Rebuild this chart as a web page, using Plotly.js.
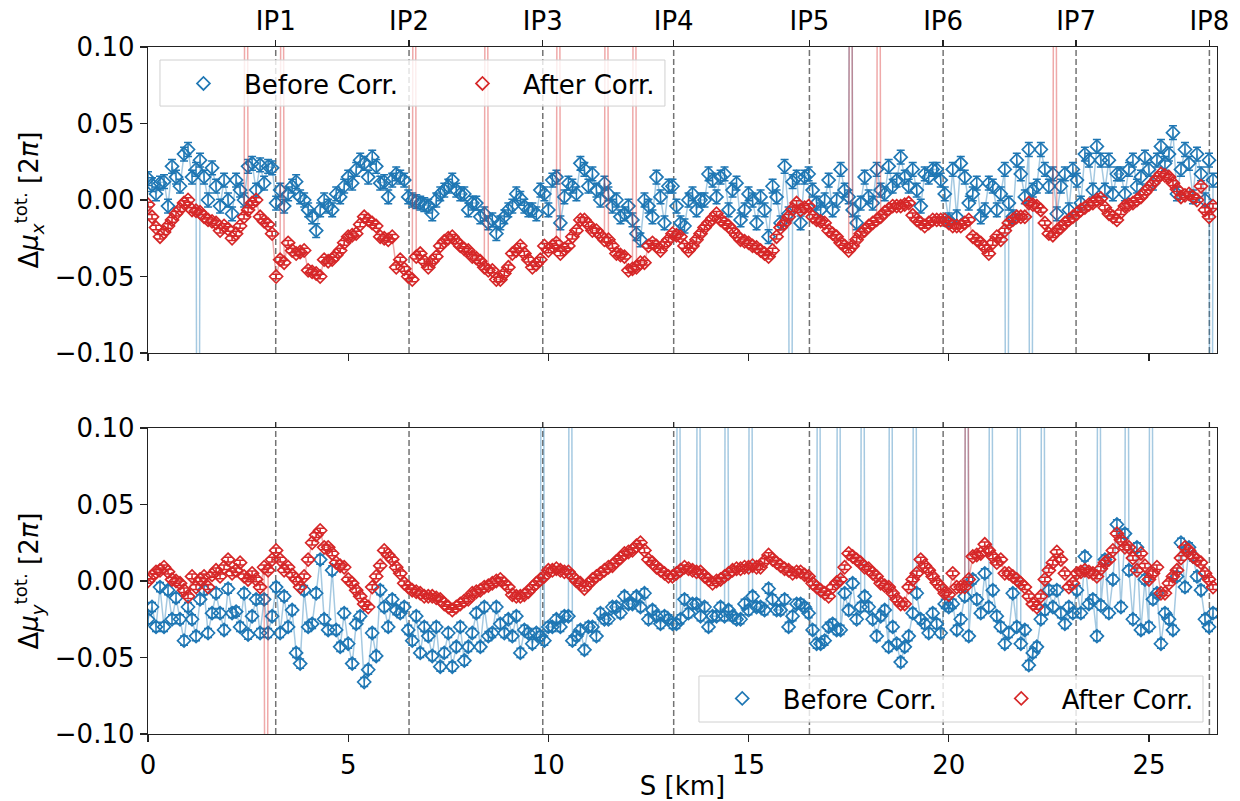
<!DOCTYPE html>
<html>
<head>
<meta charset="utf-8">
<script src="https://cdn.plot.ly/plotly-3.0.1.min.js"></script>
<style>html,body{margin:0;padding:0;background:#fff;}#chart{width:1240px;height:801px;}</style>
</head>
<body>
<div id="chart"></div>
<script>
// BPM longitudinal positions [km]
const S = [
0.0,0.1,0.2,0.3,0.4,0.5,0.6,0.7,0.8,0.9,
1.0,1.1,1.2,1.3,1.4,1.5,1.6,1.7,1.8,1.9,
2.0,2.1,2.2,2.3,2.4,2.5,2.6,2.7,2.8,2.9,
3.0,3.1,3.2,3.3,3.4,3.5,3.6,3.7,3.8,3.9,
4.0,4.1,4.2,4.3,4.4,4.5,4.6,4.7,4.8,4.9,
5.0,5.1,5.2,5.3,5.4,5.5,5.6,5.7,5.8,5.9,
6.0,6.1,6.2,6.3,6.4,6.5,6.6,6.7,6.8,6.9,
7.0,7.1,7.2,7.3,7.4,7.5,7.6,7.7,7.8,7.9,
8.0,8.1,8.2,8.3,8.4,8.5,8.6,8.7,8.8,8.9,
9.0,9.1,9.2,9.3,9.4,9.5,9.6,9.7,9.8,9.9,
10.0,10.1,10.2,10.3,10.4,10.5,10.6,10.7,10.8,10.9,
11.0,11.1,11.2,11.3,11.4,11.5,11.6,11.7,11.8,11.9,
12.0,12.1,12.2,12.3,12.4,12.5,12.6,12.7,12.8,12.9,
13.0,13.1,13.2,13.3,13.4,13.5,13.6,13.7,13.8,13.9,
14.0,14.1,14.2,14.3,14.4,14.5,14.6,14.7,14.8,14.9,
15.0,15.1,15.2,15.3,15.4,15.5,15.6,15.7,15.8,15.9,
16.0,16.1,16.2,16.3,16.4,16.5,16.6,16.7,16.8,16.9,
17.0,17.1,17.2,17.3,17.4,17.5,17.6,17.7,17.8,17.9,
18.0,18.1,18.2,18.3,18.4,18.5,18.6,18.7,18.8,18.9,
19.0,19.1,19.2,19.3,19.4,19.5,19.6,19.7,19.8,19.9,
20.0,20.1,20.2,20.3,20.4,20.5,20.6,20.7,20.8,20.9,
21.0,21.1,21.2,21.3,21.4,21.5,21.6,21.7,21.8,21.9,
22.0,22.1,22.2,22.3,22.4,22.5,22.6,22.7,22.8,22.9,
23.0,23.1,23.2,23.3,23.4,23.5,23.6,23.7,23.8,23.9,
24.0,24.1,24.2,24.3,24.4,24.5,24.6,24.7,24.8,24.9,
25.0,25.1,25.2,25.3,25.4,25.5,25.6,25.7,25.8,25.9,
26.0,26.1,26.2,26.3,26.4,26.5,26.6
];

// Horizontal phase deviation, before correction
const muxBefore = [
0.014,0.010,0.004,0.011,0.012,-0.004,0.022,0.015,0.009,0.030,
0.033,0.015,0.020,0.026,0.015,0.000,0.021,0.009,-0.004,0.013,
0.000,-0.009,0.013,0.0065,0.000,0.022,0.024,0.0065,0.023,0.011,
0.022,0.021,-0.002,0.0065,-0.004,0.004,0.009,0.012,0.002,0.000,
-0.0065,-0.011,-0.020,-0.0065,0.000,-0.004,-0.0065,0.004,0.002,0.009,
0.015,0.011,0.020,0.026,0.024,0.015,0.028,0.022,0.011,0.012,
0.002,0.013,0.017,0.015,0.013,0.002,0.000,-0.001,-0.002,-0.003,
-0.004,-0.009,0.000,0.004,0.0065,0.009,0.013,0.0065,0.004,0.004,
-0.0065,-0.002,-0.002,-0.011,-0.009,-0.015,-0.013,-0.022,-0.015,-0.011,
-0.0065,-0.004,0.004,0.001,-0.004,-0.0065,-0.0065,-0.009,0.0065,0.004,
-0.0065,0.013,0.015,-0.015,0.002,0.011,0.009,0.004,0.024,0.020,
0.009,0.017,0.0065,0.000,0.011,0.004,-0.004,0.000,-0.011,-0.009,
-0.004,-0.013,-0.022,-0.026,0.000,-0.004,-0.011,0.015,0.002,-0.015,
0.009,0.009,-0.004,-0.015,-0.017,0.000,0.004,-0.0065,0.000,0.000,
0.017,0.013,0.002,0.015,0.017,-0.0065,0.0065,0.011,-0.013,-0.0065,
0.004,0.000,-0.015,0.002,-0.0065,-0.024,0.009,0.002,-0.015,0.022,
-0.009,0.012,0.015,-0.015,0.015,0.017,0.0065,-0.002,-0.0065,0.000,
0.013,-0.0065,0.000,0.020,0.0065,0.002,-0.0065,-0.015,-0.002,0.015,
0.002,-0.002,0.020,0.0065,0.004,0.022,0.009,0.013,0.028,0.015,
0.009,0.020,0.0065,-0.004,0.017,0.015,0.020,0.020,0.013,0.004,
-0.013,0.020,-0.011,0.024,0.015,-0.002,0.004,0.011,-0.011,-0.0065,
0.011,0.009,-0.0065,0.004,0.020,-0.002,-0.011,0.026,0.017,0.002,
0.033,0.0065,0.009,0.033,0.020,0.009,0.017,-0.009,0.009,0.017,
-0.0065,0.020,0.013,-0.002,0.030,0.026,0.0065,0.035,0.026,0.0065,
0.026,0.004,0.017,0.017,0.004,0.020,0.026,0.009,0.015,0.028,
0.020,0.011,0.026,0.035,0.024,0.030,0.044,0.004,0.020,0.033,
0.024,0.002,0.030,0.017,0.000,0.026,0.013
];
// Horizontal phase deviation, after correction
const muxAfter = [
-0.003,-0.011,-0.018,-0.024,-0.021,-0.017,-0.013,-0.009,-0.006,-0.002,
0.000,-0.0065,-0.007,-0.008,-0.011,-0.013,-0.014,-0.015,-0.020,-0.017,
-0.019,-0.025,-0.022,-0.017,-0.011,-0.0065,-0.002,0.000,-0.011,-0.014,
-0.016,-0.022,-0.050,-0.039,-0.041,-0.028,-0.033,-0.035,-0.034,-0.033,
-0.046,-0.047,-0.048,-0.050,-0.039,-0.040,-0.039,-0.036,-0.033,-0.028,
-0.024,-0.023,-0.022,-0.016,-0.011,-0.013,-0.015,-0.017,-0.024,-0.025,
-0.026,-0.024,-0.044,-0.039,-0.045,-0.050,-0.052,-0.037,-0.035,-0.040,
-0.044,-0.040,-0.037,-0.030,-0.027,-0.025,-0.024,-0.027,-0.030,-0.032,
-0.033,-0.037,-0.038,-0.040,-0.044,-0.046,-0.046,-0.052,-0.052,-0.048,
-0.044,-0.035,-0.033,-0.030,-0.035,-0.039,-0.044,-0.042,-0.039,-0.030,
-0.033,-0.030,-0.028,-0.035,-0.032,-0.030,-0.024,-0.020,-0.013,-0.013,
-0.016,-0.020,-0.020,-0.023,-0.026,-0.026,-0.030,-0.035,-0.036,-0.037,
-0.046,-0.045,-0.044,-0.041,-0.041,-0.030,-0.028,-0.030,-0.033,-0.029,
-0.026,-0.022,-0.023,-0.024,-0.030,-0.033,-0.030,-0.026,-0.022,-0.018,
-0.015,-0.012,-0.009,-0.013,-0.015,-0.017,-0.020,-0.023,-0.026,-0.027,
-0.028,-0.030,-0.031,-0.033,-0.035,-0.037,-0.033,-0.024,-0.018,-0.015,
-0.011,-0.006,-0.002,-0.0065,-0.005,-0.004,-0.011,-0.013,-0.014,-0.015,
-0.020,-0.022,-0.024,-0.028,-0.030,-0.033,-0.030,-0.026,-0.022,-0.020,
-0.017,-0.015,-0.013,-0.011,-0.008,-0.006,-0.004,-0.004,-0.004,-0.003,
-0.002,-0.010,-0.013,-0.015,-0.017,-0.015,-0.013,-0.013,-0.013,-0.013,
-0.015,-0.017,-0.017,-0.017,-0.015,-0.013,-0.024,-0.026,-0.028,-0.031,
-0.035,-0.028,-0.024,-0.026,-0.020,-0.015,-0.013,-0.011,-0.011,-0.011,
-0.002,-0.003,-0.004,-0.0065,-0.015,-0.022,-0.023,-0.020,-0.018,-0.015,
-0.013,-0.011,-0.009,-0.0065,-0.005,-0.003,-0.002,0.000,0.001,-0.005,
-0.009,-0.011,-0.013,-0.008,-0.004,-0.003,-0.002,0.000,0.002,0.005,
0.008,0.011,0.014,0.017,0.016,0.015,0.011,0.007,0.002,0.003,
0.004,0.002,0.000,0.009,-0.0065,-0.011,-0.004
];
// Vertical phase deviation, before correction
const muyBefore = [
-0.025,-0.017,-0.030,-0.004,-0.030,-0.006,-0.025,-0.011,-0.025,-0.039,
-0.017,-0.025,-0.036,-0.012,-0.006,-0.034,-0.021,-0.008,-0.021,-0.032,
-0.005,-0.021,-0.020,-0.030,-0.008,-0.035,-0.023,-0.012,-0.034,-0.012,
-0.034,-0.023,-0.004,-0.034,-0.010,-0.030,-0.019,-0.047,-0.054,-0.006,
-0.030,-0.028,-0.008,0.014,-0.025,-0.032,0.007,-0.032,-0.043,-0.021,
-0.041,-0.054,-0.028,-0.023,-0.066,-0.058,-0.034,-0.049,-0.006,-0.017,
-0.030,-0.012,-0.019,-0.021,-0.017,-0.032,-0.039,-0.023,-0.047,-0.030,
-0.036,-0.049,-0.030,-0.056,-0.047,-0.034,-0.056,-0.043,-0.030,-0.052,
-0.043,-0.034,-0.021,-0.043,-0.017,-0.036,-0.034,-0.017,-0.028,-0.034,
-0.025,-0.036,-0.023,-0.047,-0.032,-0.034,-0.041,-0.034,-0.036,-0.039,
-0.030,-0.030,-0.025,-0.030,-0.023,-0.023,-0.039,-0.036,-0.032,-0.045,
-0.030,-0.030,-0.036,-0.021,-0.025,-0.025,-0.017,-0.017,-0.021,-0.010,
-0.015,-0.015,-0.010,-0.017,-0.008,-0.025,-0.019,-0.023,-0.028,-0.023,
-0.025,-0.028,-0.028,-0.025,-0.012,-0.021,-0.015,-0.015,-0.023,-0.017,
-0.030,-0.023,-0.023,-0.017,-0.023,-0.019,-0.023,-0.025,-0.025,-0.015,
-0.019,-0.010,-0.017,-0.017,-0.019,-0.005,-0.012,-0.019,-0.019,-0.012,
-0.030,-0.023,-0.015,-0.015,-0.017,-0.021,-0.032,-0.041,-0.041,-0.039,
-0.030,-0.028,-0.032,-0.032,-0.008,-0.019,-0.0015,-0.025,-0.017,-0.010,
-0.017,-0.025,-0.036,-0.023,-0.019,-0.043,-0.030,-0.041,-0.053,-0.043,
-0.036,-0.021,-0.008,-0.025,-0.028,-0.034,-0.021,-0.028,-0.034,-0.015,
-0.017,-0.015,-0.032,-0.025,-0.010,-0.036,0.001,-0.012,-0.021,0.005,
-0.017,-0.006,-0.023,-0.030,-0.041,-0.034,-0.008,-0.030,-0.041,-0.032,
-0.055,-0.047,-0.043,-0.025,-0.019,-0.006,-0.017,-0.006,-0.021,-0.028,
-0.017,-0.021,-0.006,-0.021,0.016,-0.015,-0.012,-0.036,-0.016,0.014,
-0.021,0.001,0.037,-0.017,0.031,0.007,-0.025,0.022,-0.032,0.001,
-0.030,-0.012,-0.008,-0.041,-0.021,-0.025,-0.032,0.003,0.025,-0.004,
0.022,0.016,0.003,-0.006,-0.025,-0.030,-0.021
];
// Vertical phase deviation, after correction
const muyAfter = [
0.000,0.003,0.006,0.007,0.009,0.006,0.001,0.000,-0.0015,-0.006,
-0.010,0.003,-0.004,0.001,0.003,-0.004,0.004,0.007,0.003,0.009,
0.014,0.005,0.007,0.012,0.003,0.001,0.005,0.001,-0.004,0.009,
0.007,0.014,0.020,0.014,0.007,0.009,0.004,0.001,-0.004,0.003,
0.014,0.025,0.030,0.033,0.022,0.022,0.018,0.012,0.010,0.009,
0.001,-0.0015,-0.006,-0.010,-0.015,-0.017,-0.004,0.003,0.010,0.020,
0.017,0.014,0.009,0.005,-0.0015,-0.004,-0.006,-0.007,-0.008,-0.010,
-0.010,-0.010,-0.011,-0.012,-0.015,-0.017,-0.019,-0.017,-0.015,-0.013,
-0.012,-0.008,-0.007,-0.006,-0.004,-0.003,-0.0015,0.000,0.001,-0.0015,
-0.004,-0.009,-0.010,-0.010,-0.009,-0.007,-0.004,-0.0015,0.001,0.003,
0.007,0.007,0.008,0.007,0.006,0.006,0.003,0.000,-0.0015,-0.005,
-0.002,0.001,0.003,0.005,0.007,0.009,0.010,0.013,0.015,0.018,
0.019,0.020,0.023,0.025,0.020,0.014,0.012,0.009,0.007,0.005,
0.003,0.003,0.005,0.007,0.009,0.008,0.007,0.006,0.006,0.003,
0.001,-0.0015,0.000,0.001,0.003,0.005,0.007,0.008,0.008,0.009,
0.009,0.010,0.009,0.009,0.013,0.017,0.014,0.012,0.010,0.008,
0.007,0.005,0.006,0.006,0.004,0.003,-0.0015,-0.004,-0.006,-0.008,
-0.010,-0.004,-0.001,0.001,0.009,0.018,0.016,0.014,0.012,0.009,
0.008,0.005,0.003,-0.0015,-0.003,-0.004,-0.008,-0.012,-0.015,-0.015,
-0.004,0.001,0.005,0.014,0.010,0.007,0.003,-0.001,-0.004,-0.008,
-0.009,0.005,-0.004,-0.004,-0.004,0.001,0.016,0.017,0.018,0.024,
0.020,0.016,0.012,0.014,0.005,0.005,0.003,0.001,-0.0015,-0.004,
-0.010,-0.015,-0.017,-0.010,0.001,0.007,0.012,0.019,0.014,0.005,
-0.004,-0.0015,0.005,0.006,0.007,0.006,0.005,0.003,0.008,0.012,
0.014,0.020,0.031,0.027,0.022,0.022,0.015,0.007,0.018,0.010,
0.001,0.005,0.009,-0.008,-0.008,-0.0015,0.003,0.007,0.015,0.022,
0.020,0.016,0.014,0.012,0.005,0.001,-0.004
];

// Faulty BPM readings far outside the plotted range
const muxBeforeOutS   = [1.25, 16.05, 17.55, 21.45, 22.05, 26.55];
const muxBeforeOutVal = [-0.5, -0.5, 0.5, -0.5, -0.5, -0.5];
const muxAfterOutS    = [2.45, 3.35, 6.65, 8.45, 10.25, 11.45, 12.15, 17.55, 18.25, 22.65];
const muxAfterOutVal  = [0.5, 0.5, 0.5, 0.5, 0.5, 0.5, 0.5, 0.5, 0.5, 0.5];
const muyBeforeOutS   = [9.85, 10.55, 13.25, 13.75, 14.45, 15.05, 16.75, 17.25, 17.85, 18.55, 19.15, 20.45, 21.05, 21.75, 22.35, 23.75, 24.45, 25.05];
const muyBeforeOutVal = [0.5,0.5,0.5,0.5,0.5,0.5,0.5,0.5,0.5,0.5,0.5,0.5,0.5,0.5,0.5,0.5,0.5,0.5];
const muyAfterOutS    = [2.95, 20.45];
const muyAfterOutVal  = [-0.5, 0.5];

// Measurement uncertainties
const errMuxBefore = 0.0045;
const errMuxAfter  = 0.0015;
const errMuyBefore = 0.003;
const errMuyAfter  = 0.0015;

// Interaction points
const ipS = [3.19, 6.52, 9.86, 13.13, 16.52, 19.86, 23.18, 26.51];
const ipLabels = ['IP1','IP2','IP3','IP4','IP5','IP6','IP7','IP8'];

const xTicks = [0, 5, 10, 15, 20, 25];
const yTicks = [-0.1, -0.05, 0, 0.05, 0.1];
const yTickText = ['\u22120.10', '\u22120.05', '0.00', '0.05', '0.10'];
const legendNames = ['Before Corr.', 'After Corr.'];

const BLUE = '#1f77b4', RED = '#d62728';
const BLUE_L = 'rgba(31,119,180,0.4)', RED_L = 'rgba(214,39,40,0.4)';
const FS = 26;

function merge(s, v, os, ov) {
  const pts = s.map((x, i) => [x, v[i]]).concat(os.map((x, i) => [x, ov[i]]));
  pts.sort((a, b) => a[0] - b[0]);
  return { x: pts.map(p => p[0]), y: pts.map(p => p[1]) };
}

function series(s, v, os, ov, err, color, lcolor, name, xa, ya, leg) {
  const d = merge(s, v, os, ov);
  return [
    { x: d.x, y: d.y, xaxis: xa, yaxis: ya, mode: 'lines', type: 'scatter',
      line: { color: lcolor, width: 1.5, simplify: false }, showlegend: false, hoverinfo: 'skip' },
    { x: d.x, y: d.y, xaxis: xa, yaxis: ya, mode: 'markers', type: 'scatter', name: name,
      legend: leg, showlegend: true,
      marker: { symbol: 'diamond-open', size: 10, color: color, line: { width: 1.7, color: color } },
      error_y: { type: 'constant', value: err, color: color, thickness: 1.5, width: 4 } }
  ];
}

const traces = [].concat(
  series(S, muxBefore, muxBeforeOutS, muxBeforeOutVal, errMuxBefore, BLUE, BLUE_L, legendNames[0], 'x', 'y', 'legend'),
  series(S, muxAfter, muxAfterOutS, muxAfterOutVal, errMuxAfter, RED, RED_L, legendNames[1], 'x', 'y', 'legend'),
  series(S, muyBefore, muyBeforeOutS, muyBeforeOutVal, errMuyBefore, BLUE, BLUE_L, legendNames[0], 'x2', 'y2', 'legend2'),
  series(S, muyAfter, muyAfterOutS, muyAfterOutVal, errMuyAfter, RED, RED_L, legendNames[1], 'x2', 'y2', 'legend2')
);

const shapes = [];
ipS.forEach(s => {
  ['y', 'y2'].forEach((ya, k) => {
    shapes.push({ type: 'line', xref: k ? 'x2' : 'x', yref: ya + ' domain', x0: s, x1: s, y0: 0, y1: 1,
      line: { color: 'rgba(0,0,0,0.55)', width: 1.5, dash: '6px,3px' }, layer: 'below' });
  });
  // outward IP tick on top edge of the lower panel
  shapes.push({ type: 'line', xref: 'x2', yref: 'y2 domain', x0: s, x1: s, y0: 1, y1: 1.0196,
    line: { color: '#222', width: 1.3 }, layer: 'above' });
});
// legend frames (semi-transparent, above data)
shapes.push({ type: 'rect', xref: 'x domain', yref: 'y domain', x0: 0.0112, x1: 0.4836, y0: 0.807, y1: 0.9575,
  fillcolor: 'rgba(255,255,255,0.8)', line: { color: '#d0d0d0', width: 1 }, layer: 'above' });
shapes.push({ type: 'rect', xref: 'x2 domain', yref: 'y2 domain', x0: 0.5154, x1: 0.9869, y0: 0.0392, y1: 0.1895,
  fillcolor: 'rgba(255,255,255,0.8)', line: { color: '#d0d0d0', width: 1 }, layer: 'above' });

const XR = [0, 26.7];
const axisFrame = { showline: true, mirror: true, linecolor: '#222', linewidth: 1.3, ticks: 'outside',
  ticklen: 7, tickwidth: 1.3, tickcolor: '#222', showgrid: false, zeroline: false };

const legendBase = { orientation: 'h', bgcolor: 'rgba(0,0,0,0)', borderwidth: 0, itemwidth: 71,
  entrywidth: 193, font: { size: FS } };

const layout = {
  width: 1240, height: 801,
  margin: { l: 148, r: 23, t: 47, b: 67, autoexpand: false },
  paper_bgcolor: '#fff', plot_bgcolor: '#fff',
  font: { family: 'DejaVu Sans', size: FS, color: '#000' },
  showlegend: true,
  xaxis: Object.assign({}, axisFrame, { domain: [0, 1], range: XR, anchor: 'y', tickvals: xTicks, showticklabels: false }),
  yaxis: Object.assign({}, axisFrame, { domain: [0.5546, 1], range: [-0.1, 0.1], anchor: 'x', tickvals: yTicks, ticktext: yTickText,
    title: { text: '\u0394<i>\u03bc</i><sub><i>x</i></sub><sup>tot.</sup> [2<i>\u03c0</i>]', standoff: 8, font: { size: FS } } }),
  xaxis2: Object.assign({}, axisFrame, { domain: [0, 1], range: XR, anchor: 'y2', tickvals: xTicks,
    title: { text: 'S [km]', standoff: 4, font: { size: FS } } }),
  yaxis2: Object.assign({}, axisFrame, { domain: [0, 0.4454], range: [-0.1, 0.1], anchor: 'x2', tickvals: yTicks, ticktext: yTickText,
    title: { text: '\u0394<i>\u03bc</i><sub><i>y</i></sub><sup>tot.</sup> [2<i>\u03c0</i>]', standoff: 8, font: { size: FS } } }),
  xaxis3: { overlaying: 'x', anchor: 'y', side: 'top', range: XR, tickvals: ipS, ticktext: ipLabels,
    ticks: 'outside', ticklen: 6, tickwidth: 1.3, tickcolor: '#222', showgrid: false, zeroline: false, showline: false },
  legend: Object.assign({}, legendBase, { x: 0.014, y: 0.981, xanchor: 'left', yanchor: 'top' }),
  legend2: Object.assign({}, legendBase, { x: 0.518, y: 0.0175, xanchor: 'left', yanchor: 'bottom' }),
  shapes: shapes
};

// invisible trace attaching the IP overlay axis
traces.push({ x: [XR[0]], y: [0], xaxis: 'x3', yaxis: 'y', mode: 'markers', marker: { opacity: 0 }, showlegend: false, hoverinfo: 'skip' });

Plotly.newPlot('chart', traces, layout, { staticPlot: true });
</script>
</body>
</html>
